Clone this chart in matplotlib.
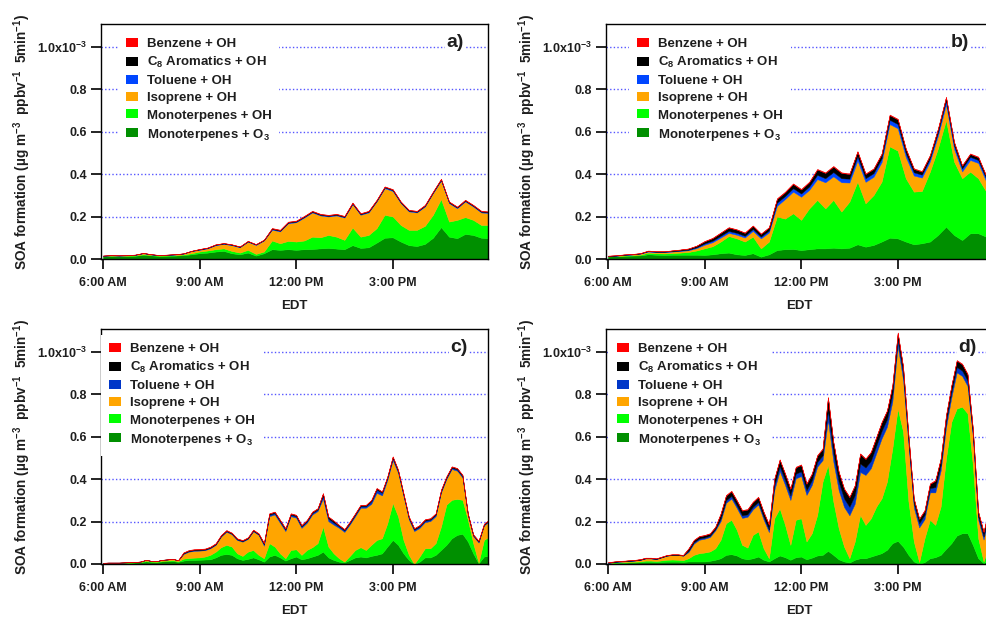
import numpy as np
import matplotlib
matplotlib.use("Agg")
import matplotlib.pyplot as plt
from matplotlib import font_manager
from matplotlib.patches import Patch

# narrow bold sans like the Igor original, if it is there
names = {f.name for f in font_manager.fontManager.ttflist}
fam = "Liberation Sans Narrow" if "Liberation Sans Narrow" in names else "Liberation Sans"
plt.rcParams["font.family"] = [fam, "DejaVu Sans"]
plt.rcParams["font.weight"] = "bold"
plt.rcParams["axes.labelweight"] = "bold"
plt.rcParams["mathtext.default"] = "regular"

# sampling times (hours of day)
hours_15 = np.arange(6, 18.01, 0.25)     # panels a, b
hours_10 = np.arange(6, 18.01, 1 / 6)    # panels c, d

# ---- values in units of 1e-3 ug m-3 ppbv-1 5min-1 ----
# panel a
a_o3 = [0.012, 0.014, 0.013, 0.014, 0.015, 0.02, 0.017, 0.014, 0.015, 0.016, 0.018, 0.022,
        0.027, 0.03, 0.035, 0.038, 0.027, 0.022, 0.03, 0.016, 0.027,
        0.046, 0.043, 0.046, 0.043, 0.046, 0.047, 0.05, 0.052, 0.049, 0.046,
        0.065, 0.052, 0.055, 0.077, 0.1, 0.102, 0.082, 0.065, 0.061, 0.071,
        0.1, 0.15, 0.105, 0.098, 0.118, 0.113, 0.1, 0.098]
a_mt_oh = [0.002, 0.002, 0.002, 0.002, 0.002, 0.002, 0.002, 0.002, 0.002, 0.002, 0.003, 0.005,
           0.008, 0.01, 0.011, 0.012, 0.011, 0.008, 0.013, 0.008, 0.008,
           0.041, 0.031, 0.039, 0.039, 0.041, 0.058, 0.052, 0.061, 0.056, 0.044,
           0.083, 0.053, 0.058, 0.068, 0.108, 0.098, 0.078, 0.072, 0.076, 0.085,
           0.108, 0.132, 0.071, 0.086, 0.079, 0.071, 0.06, 0.062]
a_iso = [0.001, 0.001, 0.001, 0.001, 0.002, 0.005, 0.002, 0.001, 0.002, 0.003, 0.004, 0.01,
         0.008, 0.01, 0.019, 0.021, 0.027, 0.025, 0.038, 0.042, 0.052,
         0.051, 0.056, 0.083, 0.091, 0.108, 0.114, 0.103, 0.087, 0.1, 0.105,
         0.11, 0.103, 0.106, 0.126, 0.125, 0.12, 0.103, 0.087, 0.082, 0.091,
         0.102, 0.087, 0.087, 0.055, 0.074, 0.063, 0.059, 0.056]
a_tol = [0.0005, 0.0005, 0.0005, 0.0005, 0.001, 0.001, 0.001, 0.001, 0.001, 0.001, 0.001, 0.001,
         0.002, 0.002, 0.002, 0.002, 0.002, 0.002, 0.002, 0.002, 0.002,
         0.003, 0.003, 0.003, 0.003, 0.003, 0.003, 0.003, 0.003, 0.003, 0.003,
         0.003, 0.003, 0.003, 0.003, 0.004, 0.004, 0.003, 0.003, 0.003, 0.003,
         0.003, 0.004, 0.003, 0.003, 0.003, 0.003, 0.003, 0.003]
a_c8 = [0.0005, 0.0005, 0.0005, 0.0005, 0.0005, 0.0005, 0.0005, 0.0005, 0.0005, 0.0005, 0.0005, 0.0005,
        0.0015, 0.0015, 0.0015, 0.0015, 0.0015, 0.0015, 0.0015, 0.0015, 0.0015,
        0.003, 0.003, 0.003, 0.003, 0.003, 0.003, 0.003, 0.003, 0.003, 0.003,
        0.003, 0.003, 0.003, 0.003, 0.003, 0.003, 0.003, 0.003, 0.003, 0.003,
        0.003, 0.003, 0.003, 0.003, 0.003, 0.003, 0.003, 0.003]
a_benz = [0.0005, 0.0005, 0.0005, 0.0005, 0.0005, 0.0005, 0.0005, 0.0005, 0.0005, 0.0005, 0.0005, 0.0005,
          0.001, 0.001, 0.001, 0.001, 0.001, 0.001, 0.001, 0.001, 0.001,
          0.002, 0.002, 0.002, 0.002, 0.002, 0.002, 0.002, 0.002, 0.002, 0.002,
          0.002, 0.002, 0.002, 0.002, 0.002, 0.002, 0.002, 0.002, 0.002, 0.002,
          0.002, 0.002, 0.002, 0.002, 0.002, 0.002, 0.002, 0.002]

# panel b
b_o3 = [0.012, 0.013, 0.015, 0.016, 0.017, 0.022, 0.02, 0.019, 0.02, 0.02, 0.02, 0.02,
        0.019, 0.022, 0.027, 0.03, 0.022, 0.019, 0.027, 0.011, 0.022,
        0.042, 0.046, 0.047, 0.042, 0.046, 0.05, 0.05, 0.053, 0.05, 0.053,
        0.069, 0.058, 0.066, 0.082, 0.1, 0.097, 0.082, 0.069, 0.074, 0.082,
        0.113, 0.152, 0.113, 0.089, 0.121, 0.121, 0.105, 0.1]
b_mt_oh = [0.001, 0.001, 0.001, 0.002, 0.003, 0.008, 0.007, 0.007, 0.008, 0.01, 0.013, 0.02,
           0.031, 0.038, 0.055, 0.078, 0.075, 0.063, 0.078, 0.039, 0.06,
           0.158, 0.144, 0.168, 0.142, 0.192, 0.228, 0.188, 0.225, 0.173, 0.217,
           0.295, 0.204, 0.235, 0.282, 0.43, 0.413, 0.298, 0.248, 0.246, 0.329,
           0.408, 0.502, 0.345, 0.291, 0.29, 0.259, 0.212, 0.21]
b_iso = [0.0, 0.001, 0.003, 0.003, 0.005, 0.005, 0.005, 0.006, 0.007, 0.008, 0.008, 0.011,
         0.017, 0.019, 0.019, 0.015, 0.017, 0.019, 0.027, 0.047, 0.043,
         0.05, 0.092, 0.102, 0.109, 0.087, 0.098, 0.123, 0.111, 0.138, 0.09,
         0.099, 0.101, 0.086, 0.092, 0.105, 0.105, 0.1, 0.076, 0.063, 0.048,
         0.059, 0.073, 0.06, 0.032, 0.055, 0.072, 0.047, 0.042]
b_tol = [0.001, 0.001, 0.001, 0.001, 0.001, 0.002, 0.002, 0.002, 0.002, 0.002, 0.003, 0.004,
         0.006, 0.007, 0.008, 0.009, 0.009, 0.008, 0.009, 0.008, 0.009,
         0.015, 0.014, 0.016, 0.015, 0.016, 0.02, 0.019, 0.02, 0.019, 0.018,
         0.02, 0.017, 0.017, 0.018, 0.02, 0.02, 0.018, 0.015, 0.014, 0.014,
         0.016, 0.018, 0.016, 0.014, 0.015, 0.014, 0.013, 0.013]
b_c8 = [0.001, 0.001, 0.001, 0.001, 0.001, 0.002, 0.002, 0.002, 0.003, 0.004, 0.005, 0.007,
        0.01, 0.012, 0.014, 0.016, 0.015, 0.014, 0.015, 0.013, 0.014,
        0.018, 0.018, 0.02, 0.019, 0.02, 0.025, 0.025, 0.026, 0.025, 0.022,
        0.022, 0.02, 0.02, 0.02, 0.022, 0.022, 0.02, 0.016, 0.014, 0.014,
        0.016, 0.016, 0.015, 0.013, 0.013, 0.013, 0.012, 0.012]
b_benz = [0.001, 0.001, 0.001, 0.001, 0.001, 0.001, 0.001, 0.001, 0.001, 0.001, 0.001, 0.001,
          0.002, 0.002, 0.002, 0.002, 0.002, 0.002, 0.002, 0.002, 0.002,
          0.003, 0.003, 0.003, 0.003, 0.003, 0.003, 0.003, 0.003, 0.003, 0.003,
          0.003, 0.003, 0.003, 0.003, 0.003, 0.003, 0.003, 0.003, 0.003, 0.003,
          0.003, 0.003, 0.003, 0.003, 0.003, 0.003, 0.003, 0.003]

# panel c
c_o3 = [0.004, 0.005, 0.005, 0.005, 0.006, 0.006, 0.007, 0.008, 0.012, 0.01, 0.009, 0.012, 0.013, 0.014, 0.01,
        0.016, 0.019, 0.019, 0.02, 0.021, 0.022, 0.031, 0.043, 0.047, 0.043, 0.027, 0.019, 0.024, 0.031, 0.022,
        0.011, 0.035, 0.043, 0.031, 0.016, 0.027, 0.035, 0.022, 0.027, 0.035, 0.043, 0.058, 0.031, 0.019, 0.011,
        0.008, 0.019, 0.031, 0.035, 0.031, 0.038, 0.043, 0.05, 0.082, 0.113, 0.09, 0.05, 0.019, 0.0, 0.011,
        0.031, 0.031, 0.043, 0.066, 0.09, 0.121, 0.137, 0.142, 0.106, 0.05, 0.003, 0.035, 0.04]
c_mt_oh = [0.001, 0.001, 0.001, 0.001, 0.001, 0.001, 0.001, 0.002, 0.003, 0.002, 0.002, 0.003, 0.003, 0.004, 0.003,
           0.009, 0.009, 0.011, 0.011, 0.014, 0.021, 0.027, 0.036, 0.043, 0.039, 0.023, 0.019, 0.034, 0.035, 0.021,
           0.016, 0.063, 0.039, 0.019, 0.011, 0.039, 0.034, 0.021, 0.039, 0.044, 0.055, 0.118, 0.051, 0.031, 0.016,
           0.003, 0.019, 0.035, 0.044, 0.035, 0.052, 0.07, 0.071, 0.11, 0.174, 0.134, 0.063, 0.024, 0.0, 0.024,
           0.043, 0.043, 0.055, 0.11, 0.189, 0.181, 0.169, 0.16, 0.102, 0.048, 0.003, 0.078, 0.09]
c_iso = [0.0, 0.0, 0.0, 0.0, 0.0, 0.001, 0.001, 0.001, 0.004, 0.002, 0.002, 0.004, 0.005, 0.006, 0.004,
         0.022, 0.03, 0.032, 0.032, 0.03, 0.031, 0.032, 0.05, 0.062, 0.058, 0.063, 0.067, 0.06, 0.088, 0.094,
         0.059, 0.127, 0.151, 0.144, 0.128, 0.159, 0.149, 0.127, 0.128, 0.154, 0.151, 0.132, 0.12, 0.135, 0.143,
         0.14, 0.148, 0.159, 0.186, 0.199, 0.193, 0.222, 0.202, 0.204, 0.202, 0.205, 0.207, 0.167, 0.155, 0.135,
         0.123, 0.128, 0.127, 0.16, 0.121, 0.145, 0.133, 0.105, 0.022, 0.033, 0.095, 0.068, 0.071]
c_tol = [0.0005, 0.0005, 0.0005, 0.0005, 0.0005, 0.0005, 0.0005, 0.0005, 0.0005, 0.0005, 0.0005, 0.0005, 0.0005, 0.0005, 0.0005,
         0.003, 0.003, 0.003, 0.003, 0.003, 0.003, 0.003, 0.003, 0.003, 0.003, 0.003, 0.003, 0.003, 0.003, 0.003,
         0.007, 0.007, 0.007, 0.007, 0.007, 0.007, 0.007, 0.007, 0.007, 0.007, 0.007, 0.014, 0.012, 0.01, 0.007,
         0.007, 0.007, 0.007, 0.007, 0.007, 0.012, 0.015, 0.012, 0.01, 0.01, 0.008, 0.007, 0.007, 0.007, 0.007,
         0.007, 0.007, 0.007, 0.007, 0.006, 0.006, 0.006, 0.006, 0.004, 0.004, 0.004, 0.004, 0.004]
c_c8 = [0.0, 0.0, 0.0, 0.0, 0.0, 0.0, 0.0, 0.0, 0.0, 0.0, 0.0, 0.0, 0.0, 0.0, 0.0,
        0.003, 0.003, 0.003, 0.003, 0.003, 0.003, 0.003, 0.003, 0.003, 0.003, 0.003, 0.003, 0.003, 0.003, 0.003,
        0.005, 0.005, 0.005, 0.005, 0.005, 0.005, 0.005, 0.005, 0.005, 0.005, 0.005, 0.01, 0.008, 0.008, 0.005,
        0.005, 0.005, 0.005, 0.005, 0.005, 0.005, 0.006, 0.005, 0.005, 0.006, 0.005, 0.005, 0.005, 0.005, 0.005,
        0.005, 0.005, 0.005, 0.005, 0.005, 0.005, 0.005, 0.005, 0.003, 0.003, 0.003, 0.003, 0.003]
c_benz = [0.0005, 0.0005, 0.0005, 0.0005, 0.0005, 0.0005, 0.0005, 0.0005, 0.0005, 0.0005, 0.0005, 0.0005, 0.0005, 0.0005, 0.0005,
          0.002, 0.002, 0.002, 0.002, 0.002, 0.002, 0.002, 0.002, 0.002, 0.002, 0.002, 0.002, 0.002, 0.002, 0.002,
          0.002, 0.002, 0.002, 0.002, 0.002, 0.002, 0.002, 0.002, 0.002, 0.002, 0.002, 0.002, 0.002, 0.002, 0.002,
          0.002, 0.002, 0.002, 0.002, 0.002, 0.002, 0.002, 0.002, 0.002, 0.002, 0.002, 0.002, 0.002, 0.002, 0.002,
          0.002, 0.002, 0.002, 0.002, 0.002, 0.002, 0.002, 0.002, 0.002, 0.002, 0.002, 0.002, 0.002]

# panel d
d_o3 = [0.004, 0.005, 0.006, 0.006, 0.007, 0.007, 0.008, 0.01, 0.01, 0.009, 0.01, 0.011, 0.011, 0.011, 0.01,
        0.012, 0.012, 0.012, 0.012, 0.015, 0.02, 0.027, 0.043, 0.046, 0.04, 0.027, 0.022, 0.027, 0.035, 0.02,
        0.012, 0.027, 0.04, 0.032, 0.02, 0.032, 0.035, 0.022, 0.03, 0.04, 0.043, 0.062, 0.043, 0.022, 0.012,
        0.007, 0.02, 0.027, 0.027, 0.035, 0.043, 0.051, 0.067, 0.098, 0.109, 0.082, 0.043, 0.012, 0.0, 0.009,
        0.027, 0.032, 0.043, 0.071, 0.098, 0.134, 0.145, 0.145, 0.09, 0.027, 0.004, 0.02, 0.025]
d_mt_oh = [0.001, 0.002, 0.002, 0.003, 0.003, 0.004, 0.004, 0.006, 0.006, 0.005, 0.007, 0.009, 0.01, 0.009, 0.008,
           0.015, 0.031, 0.039, 0.042, 0.044, 0.054, 0.087, 0.149, 0.162, 0.121, 0.063, 0.055, 0.11, 0.118, 0.054,
           0.015, 0.188, 0.222, 0.152, 0.07, 0.176, 0.18, 0.084, 0.115, 0.191, 0.345, 0.404, 0.251, 0.146, 0.07,
           0.02, 0.086, 0.204, 0.157, 0.18, 0.227, 0.258, 0.321, 0.446, 0.623, 0.541, 0.251, 0.094, 0.009, 0.112,
           0.181, 0.152, 0.227, 0.426, 0.571, 0.598, 0.595, 0.564, 0.376, 0.094, 0.008, 0.07, 0.075]
d_iso = [0.0, 0.001, 0.003, 0.003, 0.004, 0.005, 0.007, 0.01, 0.01, 0.009, 0.014, 0.019, 0.021, 0.022, 0.021,
         0.029, 0.053, 0.063, 0.065, 0.068, 0.084, 0.088, 0.096, 0.1, 0.103, 0.127, 0.145, 0.12, 0.127, 0.136,
         0.123, 0.133, 0.176, 0.188, 0.211, 0.195, 0.199, 0.219, 0.227, 0.227, 0.101, 0.212, 0.189, 0.179, 0.186,
         0.202, 0.178, 0.202, 0.235, 0.236, 0.251, 0.282, 0.258, 0.22, 0.295, 0.244, 0.27, 0.16, 0.163, 0.09,
         0.129, 0.153, 0.169, 0.146, 0.115, 0.17, 0.145, 0.129, 0.134, 0.088, 0.103, 0.134, 0.142]
d_tol = [0.001, 0.001, 0.001, 0.001, 0.001, 0.001, 0.001, 0.001, 0.001, 0.001, 0.001, 0.001, 0.001, 0.001, 0.001,
         0.006, 0.006, 0.006, 0.006, 0.006, 0.006, 0.012, 0.012, 0.012, 0.012, 0.012, 0.012, 0.012, 0.012, 0.012,
         0.012, 0.022, 0.022, 0.022, 0.022, 0.022, 0.022, 0.022, 0.022, 0.022, 0.022, 0.045, 0.04, 0.04, 0.04,
         0.04, 0.04, 0.04, 0.035, 0.035, 0.035, 0.035, 0.035, 0.035, 0.03, 0.03, 0.02, 0.02, 0.02, 0.02,
         0.02, 0.025, 0.025, 0.025, 0.025, 0.025, 0.025, 0.025, 0.015, 0.015, 0.015, 0.015, 0.015]
d_c8 = [0.002, 0.002, 0.002, 0.002, 0.002, 0.002, 0.002, 0.002, 0.002, 0.002, 0.002, 0.002, 0.002, 0.002, 0.002,
        0.01, 0.01, 0.01, 0.01, 0.01, 0.01, 0.022, 0.022, 0.022, 0.022, 0.022, 0.022, 0.022, 0.022, 0.022,
        0.022, 0.03, 0.03, 0.03, 0.03, 0.03, 0.03, 0.03, 0.03, 0.03, 0.03, 0.06, 0.05, 0.045, 0.045,
        0.045, 0.045, 0.045, 0.04, 0.04, 0.04, 0.04, 0.04, 0.04, 0.03, 0.03, 0.02, 0.02, 0.02, 0.02,
        0.02, 0.03, 0.03, 0.03, 0.03, 0.03, 0.03, 0.03, 0.02, 0.02, 0.02, 0.02, 0.02]
d_benz = [0.001, 0.001, 0.001, 0.001, 0.001, 0.001, 0.001, 0.001, 0.001, 0.001, 0.001, 0.001, 0.001, 0.001, 0.001,
          0.002, 0.002, 0.002, 0.002, 0.002, 0.002, 0.003, 0.003, 0.003, 0.003, 0.003, 0.003, 0.003, 0.003, 0.003,
          0.003, 0.003, 0.003, 0.003, 0.003, 0.003, 0.003, 0.003, 0.003, 0.003, 0.003, 0.004, 0.003, 0.003, 0.003,
          0.003, 0.003, 0.003, 0.003, 0.003, 0.003, 0.003, 0.003, 0.003, 0.003, 0.003, 0.003, 0.003, 0.003, 0.003,
          0.003, 0.003, 0.003, 0.003, 0.003, 0.003, 0.003, 0.003, 0.003, 0.003, 0.003, 0.003, 0.003]

series_names = ["Benzene + OH", "C$_8$ Aromatics + OH", "Toluene + OH",
                "Isoprene + OH", "Monoterpenes + OH", "Monoterpenes + O$_3$"]
tick_hours = [6, 9, 12, 15]
tick_names = ["6:00 AM", "9:00 AM", "12:00 PM", "3:00 PM"]
ytick_vals = [0.0, 0.2, 0.4, 0.6, 0.8, 1.0]
ytick_names = ["0.0", "0.2", "0.4", "0.6", "0.8", "1.0x10$^{-3}$"]

ink = "#1e1e1e"
dark_green = "#008f00"
lime = "#00ff00"
orange = "#ffa500"


def draw_panel(ax, hours, o3, mt_oh, iso, tol, c8, benz, blue, leg_x, tag, tag_x):
    ax.stackplot(hours, o3, mt_oh, iso, tol, c8, benz,
                 colors=[dark_green, lime, orange, blue, "black", "red"],
                 edgecolor="face", linewidth=0.3)
    ax.set_xlim(5.94, 17.96)
    ax.set_ylim(0, 1.106)
    ax.set_axisbelow(True)
    ax.grid(axis="y", color="#5656ff", linestyle=(0, (1, 1.6)), linewidth=1.0)

    ax.set_xticks(tick_hours)
    ax.set_xticklabels(tick_names)
    ax.set_yticks(ytick_vals)
    ax.set_yticklabels(ytick_names)
    ax.tick_params(axis="both", direction="out", length=7, width=1.2,
                   labelsize=9, labelcolor=ink)
    ax.tick_params(axis="x", pad=6)
    ax.tick_params(axis="y", pad=3)
    for sp in ax.spines.values():
        sp.set_linewidth(1.0)

    ax.set_xlabel("EDT", fontsize=9.5, color=ink, labelpad=8)
    ax.set_ylabel("SOA formation (\u00b5g m$^{-3}$  ppbv$^{-1}$  5min$^{-1}$)",
                  fontsize=9.8, color=ink)
    ax.yaxis.set_label_coords(-0.175, 0.5)

    handles = [Patch(facecolor=c, edgecolor="none")
               for c in ["red", "black", blue, orange, lime, dark_green]]
    ax.legend(handles, series_names, loc="upper left", bbox_to_anchor=(leg_x, 0.975),
              frameon=True, facecolor="white", edgecolor="none", framealpha=1,
              fancybox=False, borderpad=0.6, borderaxespad=0, handlelength=0.9,
              handleheight=0.68, handletextpad=0.68, labelspacing=0.38,
              prop={"size": 9.5, "weight": "bold"}, labelcolor=ink)

    ax.text(tag_x, 0.92, tag, transform=ax.transAxes, fontsize=14, color=ink,
            ha="center", va="center",
            bbox=dict(facecolor="white", edgecolor="none", pad=1))


fig = plt.figure(figsize=(9.87, 6.17), dpi=100)
W, H = 987, 617
ax_a = fig.add_axes([101 / W, 1 - 259 / H, 387 / W, 235 / H])
ax_b = fig.add_axes([606 / W, 1 - 259 / H, 387 / W, 235 / H])
ax_c = fig.add_axes([101 / W, 1 - 564 / H, 387 / W, 235 / H])
ax_d = fig.add_axes([606 / W, 1 - 564 / H, 387 / W, 235 / H])

draw_panel(ax_a, hours_15, a_o3, a_mt_oh, a_iso, a_tol, a_c8, a_benz, "#0046ff", 0.044, "a)", 0.915)
draw_panel(ax_b, hours_15, b_o3, b_mt_oh, b_iso, b_tol, b_c8, b_benz, "#0046ff", 0.06, "b)", 0.915)
draw_panel(ax_c, hours_10, c_o3, c_mt_oh, c_iso, c_tol, c_c8, c_benz, "#0036c8", 0.001, "c)", 0.925)
draw_panel(ax_d, hours_10, d_o3, d_mt_oh, d_iso, d_tol, d_c8, d_benz, "#0036c8", 0.008, "d)", 0.935)

fig.savefig("out.png", dpi=100)
